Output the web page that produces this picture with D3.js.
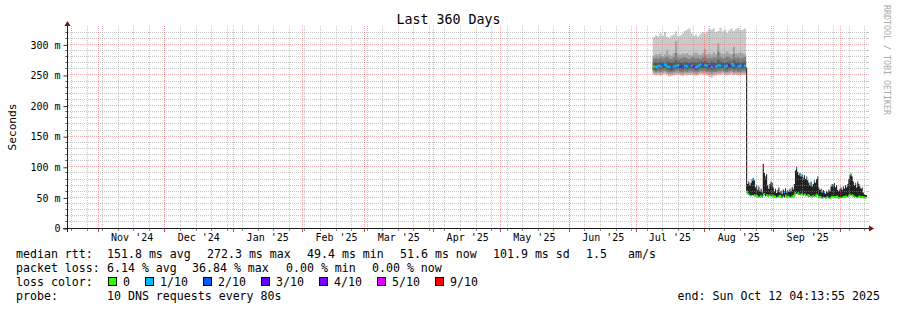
<!DOCTYPE html>
<html>
<head>
<meta charset="utf-8">
<script src="https://cdn.jsdelivr.net/npm/d3@7"></script>
<style>
  body { margin: 0; background: #fff; }
  svg { display: block; font-family: "DejaVu Sans Mono", monospace; }
</style>
</head>
<body>
<svg></svg>
<script>
// ---- data ----
const seg1Start = "2025-07-08T12:00:00Z";   // one value per day
const seg2Start = "2025-08-19T12:00:00Z";   // one value per 12 hours

// first block (~265 ms), smoke as sorted ping pairs
const s1Max = [312, 315, 313, 318, 314, 320, 312, 311, 314, 316, 321, 313, 315, 318, 322, 324, 326, 318, 314, 316, 313, 317, 320, 318, 321, 325, 324, 326, 320, 322, 327, 321, 324, 319, 323, 326, 322, 325, 327, 323, 324, 326];
const s1P9 = [282, 284, 283, 285, 281, 284, 290, 283, 282, 286, 305, 284, 283, 285, 284, 286, 283, 282, 285, 287, 284, 283, 286, 292, 284, 285, 283, 287, 284, 302, 286, 284, 285, 288, 285, 284, 296, 286, 285, 287, 285, 284];
const s1P8 = [277, 278, 276, 279, 277, 278, 280, 277, 276, 279, 286, 278, 277, 278, 279, 277, 276, 278, 279, 277, 278, 276, 279, 282, 277, 278, 277, 279, 278, 288, 279, 277, 278, 280, 279, 277, 284, 278, 279, 277, 278, 279];
const s1P7 = [270, 271, 270, 272, 271, 270, 272, 271, 270, 271, 274, 272, 271, 270, 272, 271, 270, 271, 272, 270, 271, 272, 271, 273, 271, 270, 272, 271, 270, 275, 272, 271, 270, 271, 272, 271, 274, 271, 272, 270, 271, 272];
const s1Median = [264, 263, 265, 264, 266, 267, 264, 263, 262, 264, 265, 266, 264, 263, 265, 264, 266, 265, 264, 263, 265, 267, 268, 266, 265, 264, 263, 265, 264, 266, 265, 267, 264, 265, 266, 268, 265, 266, 264, 265, 266, 265];
const s1P4 = [259, 258, 260, 259, 260, 261, 259, 258, 257, 259, 260, 260, 259, 258, 260, 259, 260, 260, 259, 258, 259, 261, 261, 260, 259, 259, 258, 259, 259, 260, 260, 261, 259, 259, 260, 261, 259, 260, 259, 259, 260, 260];
const s1P3 = [256, 255, 256, 255, 256, 257, 255, 254, 254, 255, 256, 256, 255, 254, 256, 255, 256, 256, 255, 254, 255, 257, 256, 256, 255, 255, 254, 255, 255, 256, 256, 257, 255, 255, 256, 257, 255, 256, 255, 255, 256, 256];
const s1P2 = [253, 252, 253, 252, 253, 254, 252, 251, 251, 252, 253, 253, 252, 251, 253, 252, 253, 253, 252, 251, 252, 254, 253, 253, 252, 251, 250, 252, 252, 253, 253, 254, 252, 252, 253, 254, 252, 253, 252, 252, 253, 253];
const s1Min = [250, 249, 250, 248, 250, 251, 249, 247, 248, 249, 250, 250, 249, 248, 250, 249, 250, 250, 249, 248, 249, 251, 250, 250, 249, 247, 245, 248, 249, 250, 250, 251, 249, 249, 250, 251, 249, 250, 249, 249, 250, 250];
const s1Loss = [0, 1, 1, 1, 2, 1, 1, 1, 2, 1, 1, 1, 3, 2, 1, 1, 2, 1, 3, 1, 1, 1, 2, 1, 1, 4, 1, 2, 1, 1, 1, 2, 1, 1, 3, 1, 1, 2, 1, 1, 2, 1];

// second block (~55 ms)
const s2Hi = [262,
  72, 76, 70, 74, 80, 82, 78, 66, 70, 62, 68, 60, 64, 58, 105, 90, 84, 88, 70, 64, 72, 76, 74, 66,
  60, 64, 57, 62, 66, 58, 61, 56, 63, 60, 65, 58, 62, 59, 64, 60, 67, 63,
  72, 94, 100, 92, 86, 90, 84, 88, 82, 86, 80, 84, 78, 74,
  70, 76, 68, 72, 78, 74, 80, 84,
  66, 62, 64, 58, 62, 60, 56, 61, 58, 63, 60,
  68, 72, 70, 73, 66, 70, 62,
  60, 64, 66, 62, 68, 64, 70, 66, 72,
  80, 86, 89, 84, 76, 70, 74, 66, 76, 72, 68, 64, 66, 58, 55, 54];
const s2Lo = [58,
  55, 54, 53, 52, 54, 53, 52, 51, 52, 50, 51, 50, 52, 50, 53, 54, 52, 53, 51, 52, 53, 52, 51, 50,
  51, 50, 49, 51, 50, 52, 50, 49, 51, 50, 52, 49, 50, 51, 50, 49, 51, 50,
  52, 55, 56, 55, 54, 55, 53, 54, 53, 54, 52, 53, 52, 51,
  51, 52, 50, 51, 52, 51, 53, 54,
  50, 49, 50, 48, 49, 50, 48, 49, 50, 49, 48,
  49, 50, 51, 50, 49, 50, 49,
  48, 49, 50, 49, 50, 49, 51, 50, 51,
  52, 53, 54, 52, 51, 50, 51, 49, 50, 51, 50, 49, 50, 49, 48, 49];
const s2Median = [60,
  56, 55, 54, 53, 78, 80, 54, 52, 53, 51, 66, 51, 53, 51, 55, 56, 82, 54, 52, 53, 54, 72, 53, 51,
  52, 51, 50, 60, 52, 53, 51, 50, 52, 58, 53, 50, 51, 52, 62, 50, 52, 51,
  54, 58, 98, 57, 56, 88, 55, 56, 80, 55, 54, 82, 54, 53,
  52, 74, 52, 53, 76, 52, 55, 82,
  51, 50, 51, 49, 50, 58, 49, 50, 51, 50, 49,
  50, 52, 68, 51, 50, 52, 50,
  49, 50, 64, 50, 51, 50, 52, 51, 70,
  53, 55, 87, 54, 52, 51, 72, 50, 74, 52, 51, 50, 51, 50, 49, 50];
const s2Loss = [0,
  0, 0, 1, 0, 1, 1, 0, 0, 0, 0, 1, 0, 0, 1, 0, 0, 1, 0, 0, 0, 0, 1, 0, 0,
  0, 0, 1, 1, 0, 0, 0, 1, 0, 1, 0, 0, 0, 0, 1, 0, 0, 0,
  0, 0, 1, 0, 0, 1, 0, 0, 1, 0, 0, 1, 0, 0,
  0, 1, 0, 0, 1, 0, 0, 1,
  0, 0, 0, 1, 0, 1, 0, 0, 0, 2, 0,
  0, 0, 1, 0, 0, 0, 0,
  0, 0, 1, 0, 0, 0, 0, 0, 1,
  0, 0, 0, 0, 0, 0, 1, 0, 1, 0, 0, 0, 0, 0, 0, 0];

// legend
const lossCounts = [0, 1, 2, 3, 4, 5, 9];
const lossLabels = ["0", "1/10", "2/10", "3/10", "4/10", "5/10", "9/10"];
const lossColors = ["#26ff00", "#00b8ff", "#0059ff", "#5e00ff", "#7e00ff", "#dd00ff", "#ff0000"];
const rttStats = ["151.8 ms avg", "272.3 ms max", "49.4 ms min", "51.6 ms now", "101.9 ms sd", "1.5", "am/s"];
const lossStats = ["6.14 % avg", "36.84 % max", "0.00 % min", "0.00 % now"];

// ---- layout ----
const width = 897, height = 310;
const x0 = 67, x1 = 867, yTop = 26, yBot = 228;
const day = 864e5;

const svg = d3.select("svg").attr("width", width).attr("height", height);

// grid sits ~18h after the printed end stamp
const tEnd = new Date("2025-10-12T22:00:00Z");
const tStart = new Date(+tEnd - 360 * day);

const x = d3.scaleUtc().domain([tStart, tEnd]).range([x0, x1]);
const y = d3.scaleLinear().domain([0, 330]).range([yBot, yTop]);
const px = v => Math.floor(v) + 0.5;

// rows
const seg1 = s1Median.map((m, i) => ({
  t: new Date(+new Date(seg1Start) + i * day),
  min: s1Min[i], p2: s1P2[i], p3: s1P3[i], p4: s1P4[i],
  p7: s1P7[i], p8: s1P8[i], p9: s1P9[i], max: s1Max[i],
  med: m, loss: s1Loss[i]
}));
seg1.push(Object.assign({}, seg1[seg1.length - 1], { t: new Date(+seg1[seg1.length - 1].t + day) }));

const seg2 = s2Median.map((m, i) => ({
  t: new Date(+new Date(seg2Start) + i * day / 2),
  lo: s2Lo[i], hi: s2Hi[i], med: m, loss: s2Loss[i]
}));
seg2.push(Object.assign({}, seg2[seg2.length - 1], { t: tEnd }));

// ---- smoke ----
const plot = svg.append("g");

const bands1 = [["min", "max", "#cacaca"], ["p2", "p9", "#a4a4a4"], ["p3", "p8", "#7e7e7e"], ["p4", "p7", "#585858"]];
bands1.forEach(b => {
  plot.append("path")
    .datum(seg1)
    .attr("fill", b[2])
    .attr("d", d3.area()
      .x(d => x(d.t))
      .y0(d => y(d[b[0]]))
      .y1(d => y(d[b[1]]))
      .curve(d3.curveStepAfter));
});

plot.append("path")
  .datum(seg2)
  .attr("fill", "#222")
  .attr("d", d3.area()
    .x(d => x(d.t))
    .y0(d => y(d.lo))
    .y1(d => y(d.hi))
    .curve(d3.curveStepAfter));

// ---- grid ----
const grid = svg.append("g").attr("fill", "none");
const gridCol = "rgba(144,144,144,0.5)";
const mgridCol = "rgba(230,70,70,0.45)";

const majorY = d3.range(50, 330, 50);
const minorY = d3.range(10, 330, 10).filter(v => v % 50 !== 0);
const majorX = d3.utcMonth.range(tStart, tEnd);
const minorX = d3.utcSunday.range(tStart, tEnd);

minorY.forEach(v => {
  const yy = px(y(v));
  grid.append("line").attr("x1", x0 + 1).attr("x2", x1).attr("y1", yy).attr("y2", yy)
    .attr("stroke", gridCol).attr("stroke-dasharray", "1,1");
  grid.append("line").attr("x1", x0 - 2).attr("x2", x0).attr("y1", yy).attr("y2", yy).attr("stroke", "#777");
  grid.append("line").attr("x1", x1).attr("x2", x1 + 2).attr("y1", yy).attr("y2", yy).attr("stroke", gridCol);
});
minorX.forEach(t => {
  const xx = px(x(t));
  grid.append("line").attr("x1", xx).attr("x2", xx).attr("y1", yTop).attr("y2", yBot)
    .attr("stroke", gridCol).attr("stroke-dasharray", "1,1");
  grid.append("line").attr("x1", xx).attr("x2", xx).attr("y1", yBot).attr("y2", yBot + 3).attr("stroke", "#888");
});
majorY.forEach(v => {
  const yy = px(y(v));
  grid.append("line").attr("x1", x0 + 1).attr("x2", x1 + 2).attr("y1", yy).attr("y2", yy)
    .attr("stroke", mgridCol).attr("stroke-dasharray", "1,1");
});
majorX.forEach(t => {
  const xx = px(x(t));
  grid.append("line").attr("x1", xx).attr("x2", xx).attr("y1", yTop).attr("y2", yBot)
    .attr("stroke", mgridCol).attr("stroke-dasharray", "1,1");
  grid.append("line").attr("x1", xx).attr("x2", xx).attr("y1", yBot).attr("y2", yBot + 4).attr("stroke", "#d04040");
});

// ---- median lines, one per loss colour ----
// big jumps are left unjoined, as in the rrd picture
function drawMedian(rows, w) {
  lossCounts.forEach((lc, ci) => {
    const p = d3.path();
    let any = false;
    for (let i = 0; i < rows.length - 1; i++) {
      const r = rows[i];
      if (r.loss !== lc) continue;
      const xa = x(r.t), xb = x(rows[i + 1].t), ya = y(r.med);
      p.moveTo(xa, ya);
      p.lineTo(xb, ya);
      if (i + 2 < rows.length && rows[i + 1].loss === lc) {
        const yb = y(rows[i + 1].med);
        if (Math.abs(yb - ya) < 4) p.lineTo(xb, yb);
      }
      any = true;
    }
    if (any) {
      svg.append("path").attr("d", p.toString())
        .attr("fill", "none").attr("stroke", lossColors[ci]).attr("stroke-width", w);
    }
  });
}
drawMedian(seg1, 2);
drawMedian(seg2, 1.5);

// ---- axes ----
const yAxis = svg.append("g")
  .attr("transform", `translate(${x0 + 0.5},0.5)`)
  .call(d3.axisLeft(y)
    .tickValues([0].concat(majorY))
    .tickFormat(d => d === 0 ? "0" : d + " m")
    .tickSize(4)
    .tickPadding(3));
yAxis.select(".domain").remove();
yAxis.selectAll("line").attr("stroke", "#333");
yAxis.selectAll("text").attr("font-family", "DejaVu Sans Mono").attr("font-size", 10).attr("fill", "#000");

const labelTimes = majorX.map(t => new Date(+t + 15 * day)).filter(t => t > tStart && t < tEnd);
const xAxis = svg.append("g")
  .attr("transform", `translate(0,${yBot})`)
  .call(d3.axisBottom(x)
    .tickValues(labelTimes)
    .tickFormat(d3.utcFormat("%b '%y"))
    .tickSize(0)
    .tickPadding(6));
xAxis.select(".domain").remove();
xAxis.selectAll("text").attr("font-family", "DejaVu Sans Mono").attr("font-size", 10).attr("fill", "#000");

// axis lines + arrows
svg.append("line").attr("x1", x0 - 4).attr("x2", x1 + 3).attr("y1", yBot + 0.5).attr("y2", yBot + 0.5)
  .attr("stroke", "#202020");
svg.append("line").attr("x1", x0 + 0.5).attr("x2", x0 + 0.5).attr("y1", yBot + 4).attr("y2", yTop - 3)
  .attr("stroke", "#202020");
svg.append("path").attr("d", `M${x1 + 2},${yBot - 2.5}L${x1 + 7},${yBot + 0.5}L${x1 + 2},${yBot + 3.5}Z`)
  .attr("fill", "#801010");
svg.append("path").attr("d", `M${x0 - 2.5},${yTop}L${x0 + 0.5},${yTop - 5}L${x0 + 3.5},${yTop}Z`)
  .attr("fill", "#801010");

// ---- titles ----
svg.append("text").attr("x", 448.5).attr("y", 24).attr("text-anchor", "middle")
  .attr("font-size", 13.3).text("Last 360 Days");
svg.append("text").attr("transform", "translate(16,127) rotate(-90)").attr("text-anchor", "middle")
  .attr("font-size", 11.2).text("Seconds");
svg.append("text").attr("transform", "translate(884,5) rotate(90)")
  .attr("font-size", 8.3).attr("fill", "#aaa").text("RRDTOOL / TOBI OETIKER");

// ---- legend ----
const lg = svg.append("g").attr("font-size", 11.6).attr("fill", "#000");
const rows = [257.7, 271.9, 286, 300];
const rttX = [107, 207, 307, 400, 493, 586, 628];
const lossX = [107, 192, 286, 372];
const colorX = [123, 160, 218, 276, 334, 392, 450];

lg.append("text").attr("x", 16).attr("y", rows[0]).text("median rtt:");
rttStats.forEach((s, i) => lg.append("text").attr("x", rttX[i]).attr("y", rows[0]).text(s));

lg.append("text").attr("x", 16).attr("y", rows[1]).text("packet loss:");
lossStats.forEach((s, i) => lg.append("text").attr("x", lossX[i]).attr("y", rows[1]).text(s));

lg.append("text").attr("x", 16).attr("y", rows[2]).text("loss color:");
lossLabels.forEach((s, i) => {
  lg.append("rect").attr("x", colorX[i] - 14.5).attr("y", rows[2] - 8.5).attr("width", 8).attr("height", 8)
    .attr("fill", lossColors[i]).attr("stroke", "#000").attr("stroke-width", 1);
  lg.append("text").attr("x", colorX[i]).attr("y", rows[2]).text(s);
});

lg.append("text").attr("x", 16).attr("y", rows[3]).text("probe:");
lg.append("text").attr("x", 107).attr("y", rows[3]).text("10 DNS requests every 80s");
lg.append("text").attr("x", 880).attr("y", rows[3]).attr("text-anchor", "end").text("end: Sun Oct 12 04:13:55 2025");
</script>
</body>
</html>
